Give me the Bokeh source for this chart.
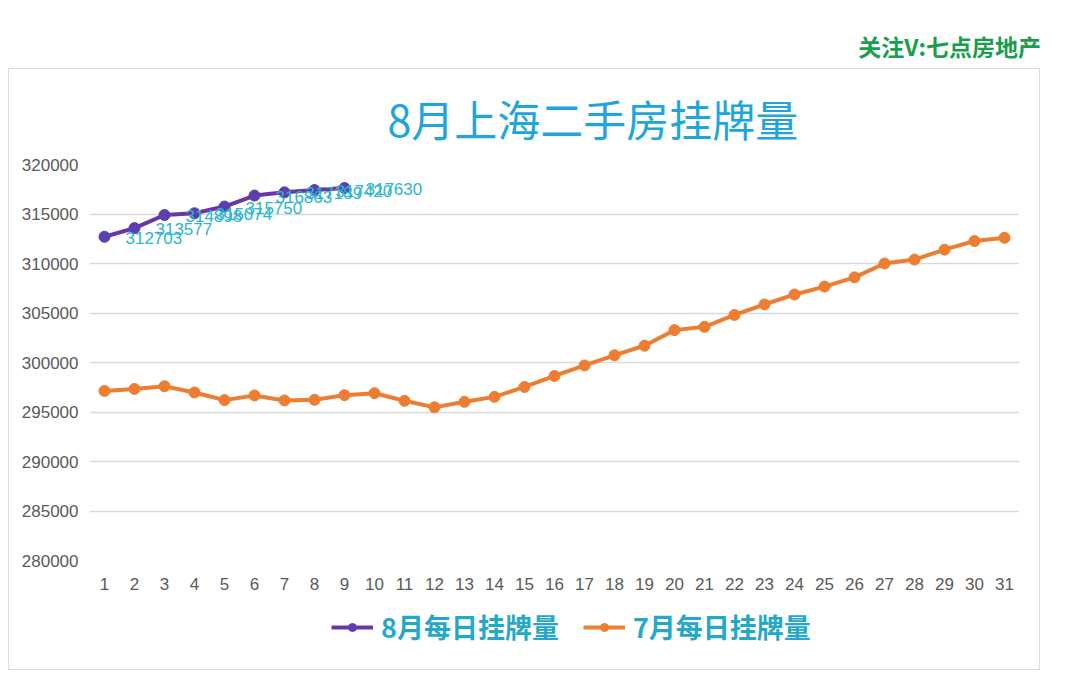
from bokeh.plotting import figure
from bokeh.models import (ColumnDataSource, FixedTicker, Legend, LegendItem, Title,
                          Div, Range1d, BasicTickFormatter)
from bokeh.layouts import column
from bokeh.core.properties import value
from bokeh.embed import file_html
from bokeh.resources import INLINE

# ---- data ----
days = list(range(1, 32))
aug_days = list(range(1, 10))
aug_values = [312703, 313577, 314898, 315074, 315750, 316863, 317189, 317420, 317630]
jul_values = [297130, 297330, 297600, 296970, 296200, 296670, 296170, 296230, 296700,
              296900, 296130, 295470, 296030, 296530, 297530, 298640, 299700, 300730,
              301700, 303270, 303600, 304800, 305870, 306870, 307670, 308600, 310000,
              310400, 311400, 312270, 312600]
y_ticks = [280000, 285000, 290000, 295000, 300000, 305000, 310000, 315000, 320000]
title_text = "8月上海二手房挂牌量"
aug_name = "8月每日挂牌量"
jul_name = "7月每日挂牌量"
watermark = "关注V:七点房地产"

CJK = "Noto Sans CJK SC"
AUG_LINE, AUG_DOT = "#6a35a5", "#5b3fb0"
JUL = "#ed7d31"

aug_src = ColumnDataSource(dict(x=aug_days, y=aug_values, lab=[str(v) for v in aug_values]))
jul_src = ColumnDataSource(dict(x=days, y=jul_values))

p = figure(width=1030, height=530, output_backend="svg", toolbar_location=None,
           x_range=Range1d(0.5, 31.5), y_range=Range1d(280000, 320000),
           min_border_left=80, min_border_right=20, min_border_top=91, min_border_bottom=39)
p.outline_line_color = None
p.background_fill_color = "white"
p.border_fill_color = "white"

t = Title(text=title_text, align="left", offset=298, standoff=31,
          text_font=CJK, text_font_size="43px", text_color="#1ea6dc",
          text_font_style="normal")
p.add_layout(t, "above")

p.xgrid.grid_line_color = None
p.ygrid.grid_line_color = "#d9d9d9"
p.ygrid.grid_line_width = 1.5

p.yaxis.ticker = FixedTicker(ticks=y_ticks)
p.yaxis.formatter = BasicTickFormatter(use_scientific=False)
p.xaxis.ticker = FixedTicker(ticks=days)
for ax in (p.xaxis, p.yaxis):
    ax.axis_line_color = None
    ax.major_tick_line_color = None
    ax.minor_tick_line_color = None
    ax.major_label_text_font = "Liberation Sans"
    ax.major_label_text_font_size = "17px"
    ax.major_label_text_color = "#595959"
p.yaxis.major_label_standoff = 5
p.xaxis.major_label_standoff = 11

jl = p.line("x", "y", source=jul_src, line_color=JUL, line_width=4)
jc = p.scatter("x", "y", source=jul_src, size=11, fill_color=JUL, line_color=JUL)
al = p.line("x", "y", source=aug_src, line_color=AUG_LINE, line_width=4)
ac = p.scatter("x", "y", source=aug_src, size=11, fill_color=AUG_DOT, line_color=AUG_DOT)

p.text("x", "y", text="lab", source=aug_src, x_offset=21, y_offset=1,
       text_align="left", text_baseline="middle", text_font=value("Liberation Sans"),
       text_font_size="17px", text_color="#2cb4cf")

# legend strip (own small figure, same series styling)
lf = figure(width=1030, height=70, output_backend="svg", toolbar_location=None,
            x_range=Range1d(0, 1), y_range=Range1d(0, 1), x_axis_type=None, y_axis_type=None,
            min_border=0)
lf.outline_line_color = None
lf.grid.grid_line_color = None
nan = float("nan")
d_src = ColumnDataSource(dict(x=[nan], y=[nan]))
lal = lf.line("x", "y", source=d_src, line_color=AUG_LINE, line_width=4)
lac = lf.scatter("x", "y", source=d_src, size=11, fill_color=AUG_DOT, line_color=AUG_DOT)
ljl = lf.line("x", "y", source=d_src, line_color=JUL, line_width=4)
ljc = lf.scatter("x", "y", source=d_src, size=11, fill_color=JUL, line_color=JUL)

legend = Legend(items=[LegendItem(label=aug_name, renderers=[lal, lac]),
                       LegendItem(label=jul_name, renderers=[ljl, ljc])],
                orientation="horizontal", location=(242, 23),
                label_text_font=CJK, label_text_font_size="27px",
                label_text_color="#24a8c8", label_text_font_style="bold",
                glyph_width=42, glyph_height=20, spacing=24, label_standoff=8,
                border_line_color=None, background_fill_alpha=0, margin=0)
lf.add_layout(legend)

div = Div(text=f'<div style="width:1036px;text-align:right;font-family:\'{CJK}\';font-weight:bold;'
               f'font-size:23px;color:#1a9e4c;padding-top:25px;">{watermark}</div>',
          width=1040, height=58)

box = column(p, lf, spacing=0,
             styles={"border": "1px solid #dcdcdc", "margin-left": "8px"})
layout = column(div, box, spacing=0)
open("out.html", "w").write(file_html(layout, INLINE))
